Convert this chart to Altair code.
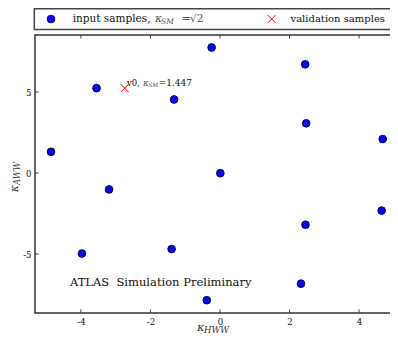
import altair as alt
import pandas as pd

# ---- data ----
in_x = [-3.55, -4.86, -1.32, -3.19, -0.24, 2.45, 2.48, 4.68, 0.01, -3.97, -1.39, 4.65, 2.46, 2.33, -0.38]
in_y = [5.24, 1.31, 4.54, -1.01, 7.75, 6.71, 3.07, 2.10, -0.01, -4.97, -4.69, -2.32, -3.19, -6.83, -7.85]
val_x = [-2.74]
val_y = [5.24]
val_name = ["v0,"]
val_ksm = ["=1.447"]
x_ticks = [-4, -2, 0, 2, 4]
y_ticks = [-5, 0, 5]
x_domain = [-5.32, 5.12]
y_domain = [-8.64, 8.52]

W, H = 363, 278
FONT = "DejaVu Serif"
CROSS = "M-1,-1L1,1M-1,1L1,-1"

inp = pd.DataFrame({"x": in_x, "y": in_y})
val = pd.DataFrame({"x": val_x, "y": val_y, "name": val_name, "ksm": val_ksm})
xt = pd.DataFrame({"t": x_ticks})
yt = pd.DataFrame({"t": y_ticks})
one = pd.DataFrame({"a": [0]})

label_expr = "datum.value < 0 ? '-' + abs(datum.value) : '' + datum.value"
xs = alt.Scale(domain=x_domain, nice=False, zero=False)
ys = alt.Scale(domain=y_domain, nice=False, zero=False)
X = alt.X("x:Q", scale=xs, axis=alt.Axis(values=x_ticks, labelExpr=label_expr, title=None, grid=False,
                                         domain=False, ticks=False, labelFont=FONT, labelFontSize=8.5,
                                         labelColor="#111", labelPadding=4))
Y = alt.Y("y:Q", scale=ys, axis=alt.Axis(values=y_ticks, labelExpr=label_expr, title=None, grid=False,
                                         domain=False, ticks=False, labelFont=FONT, labelFontSize=8.5,
                                         labelColor="#111", labelPadding=4))

points = alt.Chart(inp).mark_point(shape="circle", filled=True, fill="#0000ff", stroke="black",
                                   strokeWidth=0.8, size=60, opacity=1).encode(x=X, y=Y)
cross = alt.Chart(val).mark_point(shape=CROSS, filled=False, stroke="#ff0000", strokeWidth=1,
                                  size=64, opacity=1).encode(x=X, y=Y)
lab1 = alt.Chart(val).mark_text(font=FONT, fontSize=8.5, align="left", baseline="alphabetic",
                                dx=2.2, dy=-2.3, color="#111").encode(x=X, y=Y, text="name:N")
lab2 = alt.Chart(val).mark_text(font=FONT, fontSize=9, fontStyle="italic", align="left", baseline="alphabetic",
                                dx=18.3, dy=-2.3, color="#555").encode(x=X, y=Y, text=alt.value("κ"))
lab3 = alt.Chart(val).mark_text(font=FONT, fontSize=5.8, fontStyle="italic", align="left", baseline="alphabetic",
                                dx=23.6, dy=-0.8, color="#555").encode(x=X, y=Y, text=alt.value("SM"))
lab4 = alt.Chart(val).mark_text(font=FONT, fontSize=9, align="left", baseline="alphabetic",
                                dx=34, dy=-2.3, color="#111").encode(x=X, y=Y, text="ksm:N")

# inward ticks on all four sides
tb = alt.Chart(xt).mark_rule(color="#444", strokeWidth=1).encode(
    x=alt.X("t:Q", scale=xs), y=alt.value(H - 3.5), y2=alt.value(H))
tt = alt.Chart(xt).mark_rule(color="#444", strokeWidth=1).encode(
    x=alt.X("t:Q", scale=xs), y=alt.value(0), y2=alt.value(3.5))
tl = alt.Chart(yt).mark_rule(color="#444", strokeWidth=1).encode(
    y=alt.Y("t:Q", scale=ys), x=alt.value(0), x2=alt.value(3.5))
tr = alt.Chart(yt).mark_rule(color="#444", strokeWidth=1).encode(
    y=alt.Y("t:Q", scale=ys), x=alt.value(W - 3.5), x2=alt.value(W))


def txt(s, x, y, size, style="normal", weight="normal", align="left", baseline="middle", angle=0, color="#111"):
    return alt.Chart(one).mark_text(font=FONT, fontSize=size, fontStyle=style, fontWeight=weight,
                                    align=align, baseline=baseline, angle=angle, color=color).encode(
        x=alt.value(x), y=alt.value(y), text=alt.value(s))

# axis titles
xt1 = txt("κ", 162, 292.5, 11.5, style="italic", color="#333")
xt2 = txt("HWW", 169, 295, 8.5, style="italic", color="#333")
yt1 = txt("κ", -20.5, 157, 10.5, style="italic", angle=270, color="#333")
yt2 = txt("AWW", -18, 150, 8.5, style="italic", angle=270, color="#333")

atlas = txt("ATLAS\u00a0\u00a0Simulation Preliminary", 35, 251, 11.5, baseline="alphabetic")

# legend box above the plot
box = alt.Chart(one).mark_rect(fill="white", stroke="#444", strokeWidth=1.5).encode(
    x=alt.value(-0.7), x2=alt.value(W + 10), y=alt.value(-26.2), y2=alt.value(-5.5))
lg_dot = alt.Chart(one).mark_point(shape="circle", filled=True, fill="#0000ff", stroke="black",
                                   strokeWidth=0.8, size=60, opacity=1).encode(x=alt.value(16), y=alt.value(-16))
lg_x = alt.Chart(one).mark_point(shape=CROSS, filled=False, stroke="#ff0000", strokeWidth=1,
                                 size=64, opacity=1).encode(x=alt.value(236.7), y=alt.value(-16))
lg1 = txt("input samples,", 37.7, -16, 10.5)
lg2 = txt("κ", 120, -16, 11, style="italic", color="#555")
lg3 = txt("SM", 126, -13, 7.5, style="italic", color="#555")
lg4 = txt("=", 146.7, -16, 10.5, color="#555")
lg4b = txt("√2", 155, -16, 10.5, color="#555")
lg5 = txt("validation samples", 255.5, -16, 10)

chart = alt.layer(points, cross, lab1, lab2, lab3, lab4, tb, tt, tl, tr,
                  xt1, xt2, yt1, yt2, atlas, box, lg_dot, lg_x, lg1, lg2, lg3, lg4, lg4b, lg5).properties(
    width=W, height=H,
    autosize=alt.AutoSizeParams(type="none"),
    padding={"left": 27, "top": 27, "right": -8, "bottom": 22},
).configure_view(stroke="#333", strokeWidth=1.5)

chart.save("out.html", embed_options={"renderer": "svg", "actions": False})
